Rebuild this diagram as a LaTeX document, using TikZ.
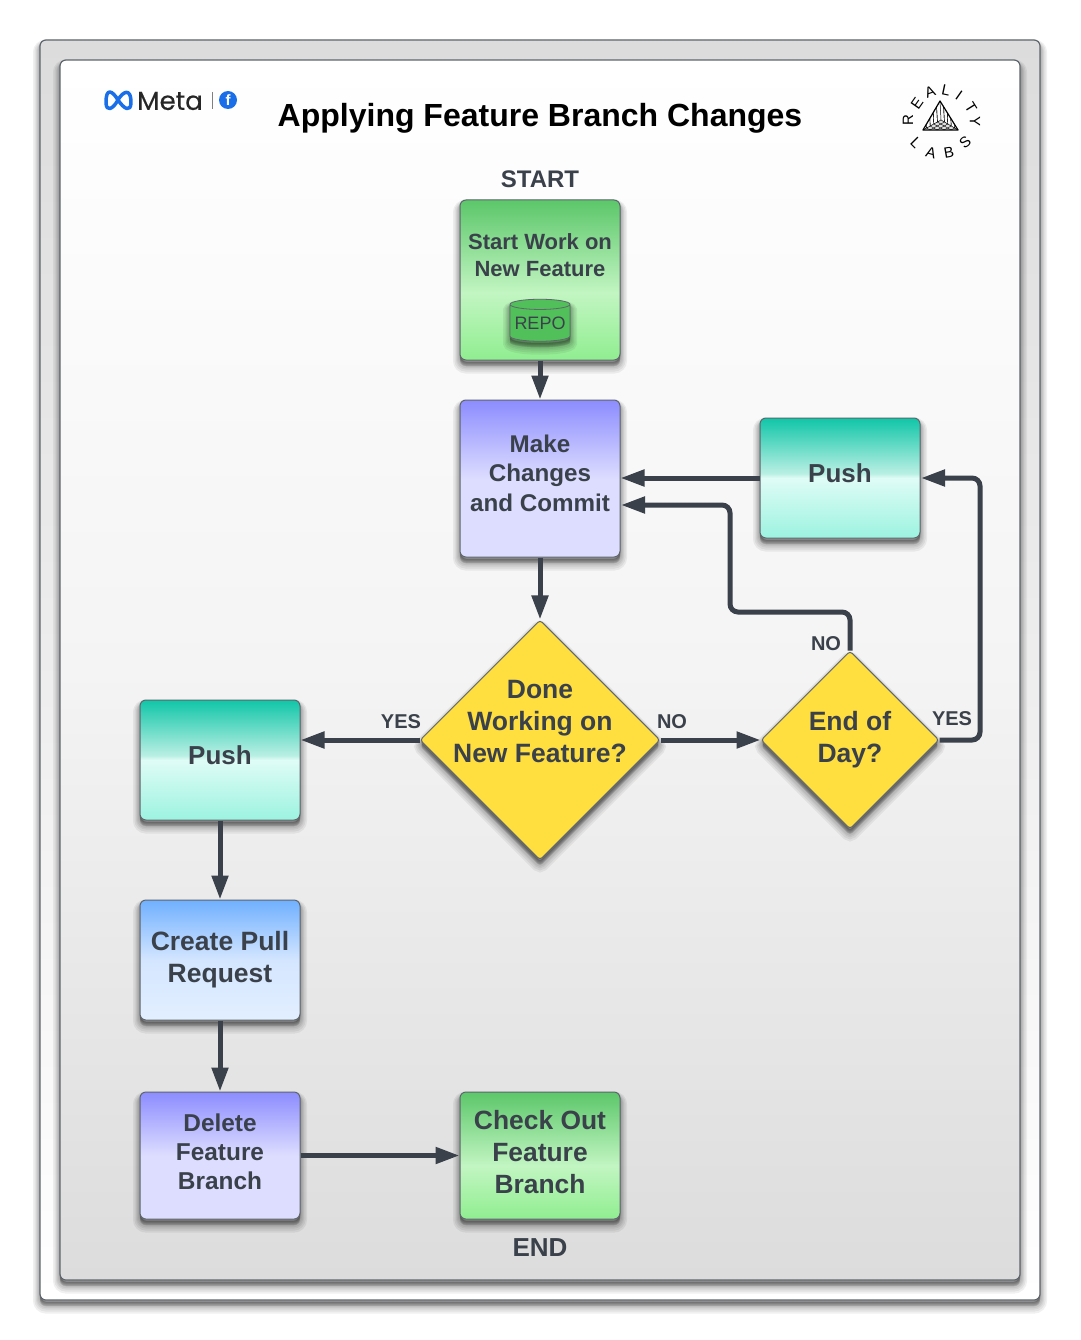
\documentclass[tikz,border=0pt]{standalone}
\usepackage{fontspec}
\setmainfont{Liberation Sans}
\newfontfamily\metafont[FakeBold=0.25]{Poppins}
\usepackage{tikz}
\usetikzlibrary{shapes.geometric, arrows.meta, positioning, calc}
\definecolor{inkdark}{HTML}{3A414A}
\definecolor{edgegray}{HTML}{5F666D}
\definecolor{diamondyellow}{HTML}{FFDF40}
\definecolor{repogreen}{HTML}{52C05A}
\definecolor{metablue}{HTML}{1A6FE8}
% Gradient stops
\definecolor{gA}{HTML}{90EE90}\definecolor{gB}{HTML}{C2F5C2}\definecolor{gC}{HTML}{5CC76A}
\definecolor{tA}{HTML}{9CF3E0}\definecolor{tB}{HTML}{DFFCF6}\definecolor{tC}{HTML}{B8EFE3}\definecolor{tD}{HTML}{10C6A8}
\definecolor{pA}{HTML}{DDDDFF}\definecolor{pB}{HTML}{8C8CFF}
\definecolor{bA}{HTML}{E2EFFF}\definecolor{bM}{HTML}{D4E6FF}\definecolor{bB}{HTML}{70B0FF}
\definecolor{wA}{HTML}{DCDCDC}\definecolor{wB}{HTML}{F4F4F4}\definecolor{wC}{HTML}{FFFFFF}
\pgfdeclareverticalshading{greenfill}{100bp}{color(0bp)=(gA);color(25bp)=(gA);color(46bp)=(gB);color(75bp)=(gC);color(100bp)=(gC)}
\pgfdeclareverticalshading{tealfill}{100bp}{color(0bp)=(tA);color(25bp)=(tA);color(50bp)=(tB);color(52bp)=(tC);color(75bp)=(tD);color(100bp)=(tD)}
\pgfdeclareverticalshading{purplefill}{100bp}{color(0bp)=(pA);color(25bp)=(pA);color(50bp)=(pA);color(75bp)=(pB);color(100bp)=(pB)}
\pgfdeclareverticalshading{bluefill}{100bp}{color(0bp)=(bA);color(25bp)=(bA);color(50bp)=(bM);color(75bp)=(bB);color(100bp)=(bB)}
\pgfdeclareverticalshading{panelfill}{100bp}{color(0bp)=(wA);color(25bp)=(wA);color(50bp)=(wB);color(75bp)=(wC);color(100bp)=(wC)}
\pgfdeclareverticalshading{framefill}{100bp}{color(0bp)=(wC);color(25bp)=(wC);color(75bp)=(wA);color(100bp)=(wA)}
\tikzset{
  shadowlayer/.style 2 args={preaction={draw=black, fill=black, opacity=0.06, line width=#1, transform canvas={yshift=#2}}},
  softshadow/.style={shadowlayer={14pt}{-6.5pt}, shadowlayer={11pt}{-6pt}, shadowlayer={8pt}{-5.5pt}, shadowlayer={6pt}{-5pt}, shadowlayer={4pt}{-4pt}, shadowlayer={2pt}{-3pt}, shadowlayer={1pt}{-2pt}},
  stepbox/.style={rectangle, rounded corners=6pt, draw=edgegray, line width=1pt, minimum width=160pt, shade, softshadow, inner sep=0pt},
  boxtext/.style={text=inkdark, font=\fontsize{26}{32}\selectfont\bfseries, align=center, inner sep=0pt},
  decision/.style={diamond, aspect=1, rounded corners=3pt, draw=edgegray, line width=1pt, fill=diamondyellow, softshadow, inner sep=0pt},
  framebox/.style={rectangle, rounded corners=6pt, draw=edgegray, line width=1.2pt, shade, softshadow, inner sep=0pt},
  branch/.style={text=inkdark, font=\fontsize{20}{24}\selectfont\bfseries, inner sep=0pt},
  labsletter/.style={text=black, font=\fontsize{15}{15}\selectfont, inner sep=0pt},
  arrow/.style={line width=5pt, draw=inkdark, -{Triangle[length=24pt, width=16pt]}, rounded corners=8pt}
}
\begin{document}
\begin{tikzpicture}[x=1pt, y=-1pt]
  \useasboundingbox (0,0) rectangle (1080,1340);
  % Frames
  \node (frame) [framebox, shading=framefill, minimum width=1000pt, minimum height=1260pt] at (540,670) {};
  \node (panel) [framebox, shading=panelfill, minimum width=960pt, minimum height=1220pt] at (540,670) {};
  % Meta logo
  \draw [line width=3.5pt, draw=metablue, line join=round] (118,100) .. controls (112,90) and (106,88) .. (106,102) .. controls (106,113) and (113,109) .. (118,100) .. controls (123,91) and (131,88) .. (131,102) .. controls (131,113) and (124,109) .. (118,100);
  \node (meta) [anchor=west, inner sep=0pt, text=black!85, font=\metafont\fontsize{26}{30}\selectfont] at (137,101) {Meta};
  \draw [line width=1pt, draw=gray] (212,92) -- (212,109);
  \node (fb) [circle, fill=metablue, text=white, inner sep=0pt, minimum size=18pt, font=\fontsize{15}{15}\selectfont\bfseries] at (228,100) {f};
  \node (title) [text=black, font=\fontsize{32}{36}\selectfont\bfseries] at (540,118) {Applying Feature Branch Changes};
  % Reality Labs logo
  \coordinate (apex) at (940,101);
  \coordinate (baseL) at (923,130);
  \coordinate (baseR) at (958,130);
  \coordinate (mid) at (941,120);
  \foreach \t in {0.2,0.4,0.6,0.8} {
    \draw [line width=0.4pt] ($(apex)!\t!(baseL)$) -- ($(mid)!\t!(baseL)$) -- ($(mid)!\t!(baseR)$) -- ($(apex)!\t!(baseR)$);
    \draw [line width=0.4pt] ($(baseL)!\t!(baseR)$) -- ($(baseL)!\t!(mid)$) -- ($(baseL)!\t!(apex)$);
    \draw [line width=0.4pt] ($(baseL)!\t!(baseR)$) -- ($(baseR)!1-\t!(mid)$) -- ($(baseR)!1-\t!(apex)$);
  }
  \draw [line width=0.5pt] (mid) -- (apex) (mid) -- (baseL) (mid) -- (baseR);
  \draw [line width=1.2pt, line join=round] (apex) -- (baseL) -- (baseR) -- cycle;
  \foreach \letter/\lx/\ly/\rot in {R/908/120/90, E/917/103/55, A/930/92/20, L/946/90/-12, I/959/95/-35, T/971/108/-58, Y/975/122/-90, L/916/143/-45, A/931/153/-15, B/949/153/10, S/965/142/40} {
    \node [labsletter, rotate=\rot] at (\lx,\ly) {\letter};
  }
  % Flow
  \node (start) [text=inkdark, font=\fontsize{24}{28}\selectfont\bfseries, inner sep=0pt] at (540,179) {START};
  \node (work) [stepbox, shading=greenfill, minimum height=160pt] at (540,280) {};
  \node (worktext) [text=inkdark, font=\fontsize{22}{27}\selectfont\bfseries, align=center, inner sep=0pt] at (540,255) {Start Work on\\New Feature};
  \node (repo) [cylinder, shape border rotate=90, aspect=0.2, draw=edgegray, line width=0.8pt, fill=repogreen, softshadow, minimum width=60pt, minimum height=42pt, inner sep=0pt, text=inkdark, font=\fontsize{18}{22}\selectfont] at (540,323) {\raisebox{-2pt}{REPO}};
  \node (commit) [stepbox, shading=purplefill, minimum height=157pt, label={[boxtext, font=\fontsize{24.2}{29.5}\selectfont\bfseries, yshift=5.5pt]center:Make\\Changes\\and Commit}] at (540,478.5) {};
  \node (pushb) [stepbox, shading=tealfill, minimum height=120pt, label={[boxtext, yshift=5pt]center:Push}] at (840,478) {};
  \node (done) [decision, minimum width=240pt, minimum height=240pt, label={[boxtext, font=\fontsize{26.5}{32}\selectfont\bfseries, yshift=18.5pt]center:Done\\Working on\\New Feature?}] at (540,740) {};
  \node (eod) [decision, minimum width=178pt, minimum height=178pt, label={[boxtext, font=\fontsize{26.5}{32}\selectfont\bfseries]center:End of\\Day?}] at (850,740) {};
  \node (pusha) [stepbox, shading=tealfill, minimum height=120pt, label={[boxtext, yshift=5pt]center:Push}] at (220,760) {};
  \node (pull) [stepbox, shading=bluefill, minimum height=120pt, label={[boxtext, font=\fontsize{26.5}{32}\selectfont\bfseries]center:Create Pull\\Request}] at (220,960) {};
  \node (delete) [stepbox, shading=purplefill, minimum height=127pt, label={[boxtext, font=\fontsize{24.4}{29}\selectfont\bfseries, yshift=4pt]center:Delete\\Feature\\Branch}] at (220,1155.5) {};
  \node (checkout) [stepbox, shading=greenfill, minimum height=127pt, label={[boxtext, font=\fontsize{26.4}{32}\selectfont\bfseries, yshift=3pt]center:Check Out\\Feature\\Branch}] at (540,1155.5) {};
  \node (finish) [text=inkdark, font=\fontsize{26}{30}\selectfont\bfseries, inner sep=0pt] at (540,1248) {END};
  \coordinate (commitlow) at (621,505);
  \coordinate (pushin) at (921,478);
  % Connectors
  \draw [arrow] (work) -- (commit);
  \draw [arrow] (commit) -- (done);
  \draw [arrow] (pushb) -- (commit.east |- pushb);
  \draw [arrow] (eod.north) -- (850,612) -- (730,612) -- (730,505) -- (commitlow);
  \draw [arrow] (eod.east) -- (980,740) -- (980,478) -- (pushin);
  \draw [arrow] (done.west) -- (pusha.east |- done);
  \draw [arrow] (done.east) -- (eod.west);
  \draw [arrow] (pusha) -- (pull);
  \draw [arrow] (pull) -- (delete);
  \draw [arrow] (delete) -- (checkout);
  % Branch labels
  \node (yesa) [branch] at (401,722) {YES};
  \node (noa) [branch] at (672,722) {NO};
  \node (nob) [branch] at (826,644) {NO};
  \node (yesb) [branch] at (952,719) {YES};
\end{tikzpicture}
\end{document}
